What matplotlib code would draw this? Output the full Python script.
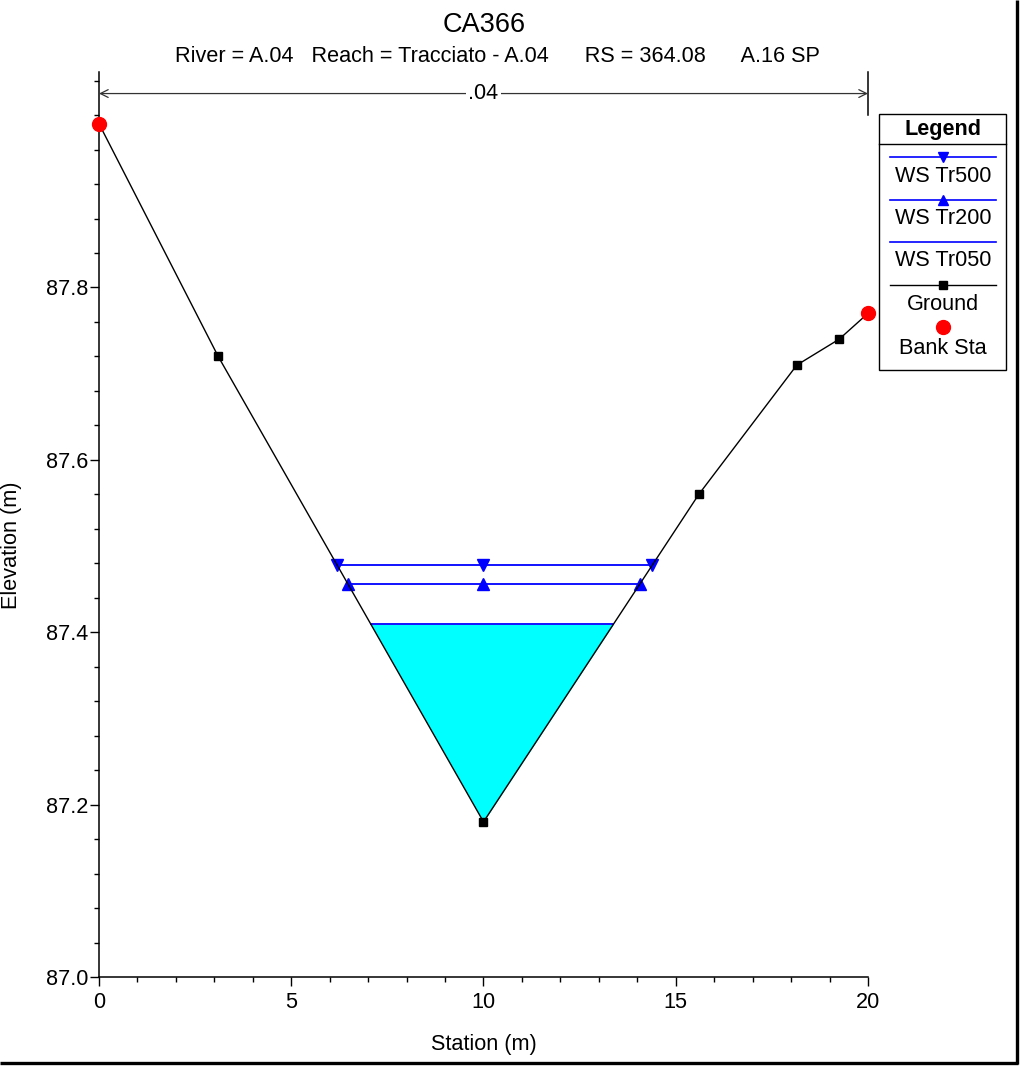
import numpy as np
import matplotlib
matplotlib.use("Agg")
import matplotlib.pyplot as plt
from matplotlib.ticker import FixedLocator, MultipleLocator

plt.rcParams["font.family"] = ["Liberation Sans", "DejaVu Sans"]

# ground profile (station m, elevation m)
ground_x = [0.0, 3.1, 10.0, 15.6, 18.15, 19.25, 20.0]
ground_z = [87.99, 87.72, 87.18, 87.56, 87.71, 87.74, 87.77]
bank_x = [0.0, 20.0]
bank_z = [87.99, 87.77]

# water surfaces
ws_names = ["WS Tr500", "WS Tr200", "WS Tr050"]
ws_levels = [87.478, 87.456, 87.409]
ws_markers = ["v", "^", None]
n_value = ".04"

title = "CA366"
subtitle = "River = A.04   Reach = Tracciato - A.04      RS = 364.08      A.16 SP"

FS = 15.6
W, H = 1033, 1067
fig = plt.figure(figsize=(W / 100, H / 100), dpi=100)
ax = fig.add_axes([99 / W, 1 - 977 / H, (868 - 99) / W, (977 - 72) / H])

gx = np.array(ground_x)
gz = np.array(ground_z)
imin = int(np.argmin(gz))


def edges(level):
    # where the water level meets the ground on each bank
    left = np.interp(level, gz[:imin + 1][::-1], gx[:imin + 1][::-1])
    right = np.interp(level, gz[imin:], gx[imin:])
    return left, right


# filled water for the lowest profile
lo = ws_levels[-1]
ax.fill_between(gx, gz, lo, where=gz <= lo, interpolate=True,
                color="#00FFFF", lw=0, zorder=1)

for name, lev, mk in zip(ws_names, ws_levels, ws_markers):
    l, r = edges(lev)
    xs = [l, gx[imin], r]
    ax.plot(xs, [lev] * 3, color="blue", lw=1.3, marker=mk, ms=8,
            zorder=3)

ax.plot(gx, gz, color="black", lw=1.0, marker="s", ms=6, zorder=4)
ax.plot(bank_x, bank_z, "o", color="red", ms=10, zorder=5, clip_on=False)

ax.set_xlim(0, 20)
ax.set_ylim(87.0, 88.05)
ax.xaxis.set_major_locator(FixedLocator([0, 5, 10, 15, 20]))
ax.xaxis.set_minor_locator(MultipleLocator(1))
ax.yaxis.set_major_locator(FixedLocator([87.0, 87.2, 87.4, 87.6, 87.8]))
ax.yaxis.set_minor_locator(MultipleLocator(0.04))
ax.yaxis.set_major_formatter(matplotlib.ticker.FormatStrFormatter("%.1f"))
ax.tick_params(which="major", length=6.5, width=1, labelsize=FS)
ax.tick_params(axis="y", which="major", pad=1.5)
ax.tick_params(axis="x", which="major", pad=4.5)
ax.tick_params(which="minor", length=3.6, width=1)
for s in ["top", "right"]:
    ax.spines[s].set_visible(False)
for s in ["left", "bottom"]:
    ax.spines[s].set_linewidth(1.1)

# n-value arrow across the section
ya = 88.025
ax.annotate("", xy=(0, ya), xytext=(20, ya),
            arrowprops=dict(arrowstyle="<->", color="#333333", lw=0.9,
                            shrinkA=0, shrinkB=0, mutation_scale=14),
            annotation_clip=False)
ax.text(10, ya, n_value, ha="center", va="center", fontsize=FS,
        bbox=dict(facecolor="white", edgecolor="none", pad=1.5), zorder=6)
ax.plot([20, 20], [88.0, 88.05], color="black", lw=1.1, clip_on=False)

# titles and labels in pixel positions
fig.text(484 / W, 1 - 32 / H, title, ha="center", va="baseline", fontsize=19.5)
fig.text(175 / W, 1 - 62 / H, subtitle, ha="left", va="baseline", fontsize=FS)
fig.text(484 / W, 1 - 1050 / H, "Station (m)", ha="center", va="baseline",
         fontsize=FS)
fig.text(12 / W, 1 - 545 / H, "Elevation (m)", ha="center", va="center",
         rotation=90, fontsize=FS)

# overlay for legend box and frame
ov = fig.add_axes([0, 0, 1, 1], zorder=10)
ov.set_xlim(0, W)
ov.set_ylim(H, 0)
ov.axis("off")
ov.patch.set_visible(False)

ov.add_patch(plt.Rectangle((879, 114), 127, 256, facecolor="white",
                           edgecolor="black", lw=1.0))
ov.plot([879, 1006], [144, 144], color="black", lw=1.0)
ov.text(943, 129, "Legend", ha="center", va="center", fontsize=FS,
        fontweight="bold")

cx = 943
rows = [(157, 177), (200, 219), (242, 261)]
for (ly, ty), name, mk in zip(rows, ws_names, ws_markers):
    ov.plot([890, 996], [ly, ly], color="blue", lw=1.2)
    if mk:
        ov.plot([cx], [ly], marker=mk, color="blue", ms=7)
    ov.text(cx, ty, name, ha="center", va="center", fontsize=FS)
ov.plot([890, 996], [285, 285], color="black", lw=1.0)
ov.plot([cx], [285], marker="s", color="black", ms=6)
ov.text(cx, 304, "Ground", ha="center", va="center", fontsize=FS)
ov.plot([cx], [327], marker="o", color="red", ms=10)
ov.text(cx, 348, "Bank Sta", ha="center", va="center", fontsize=FS)

# window frame at right and bottom
ov.plot([1017, 1017], [0, 1064], color="black", lw=2.4, solid_capstyle="butt")
ov.plot([0, 1018], [1063, 1063], color="black", lw=2.4, solid_capstyle="butt")

fig.savefig("out.png", dpi=100)
